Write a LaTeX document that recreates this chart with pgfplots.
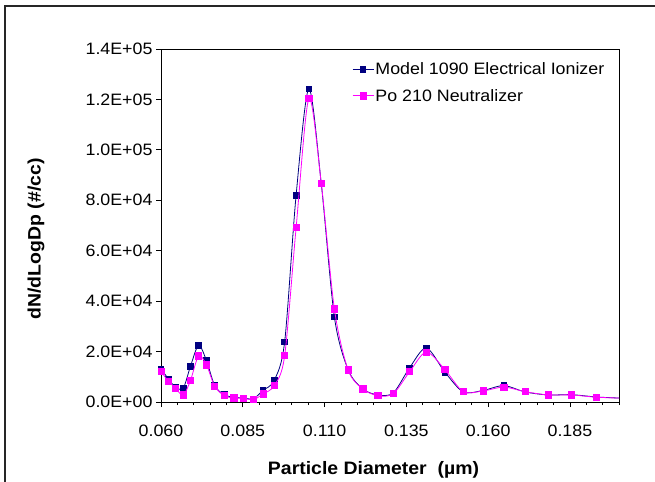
\documentclass[border=0pt]{standalone}
\usepackage{fontspec}
\setmainfont[FakeStretch=1.08]{Liberation Sans}
\usepackage{pgfplots}
\pgfplotsset{compat=1.18}
\definecolor{ionnavy}{HTML}{000080}
\definecolor{pomag}{HTML}{FF00FF}

\newcommand{\tickfont}{\fontsize{16.5bp}{19bp}\selectfont}
\newcommand{\labfont}{\fontsize{18bp}{21bp}\selectfont\bfseries}

\begin{document}
\begin{tikzpicture}
\useasboundingbox (0,0) rectangle (655bp,482bp);
% outer chart frame, cut at right and bottom
\draw[line width=1.6bp, black!85] (5bp,-20bp) -- (5bp,476bp) -- (700bp,476bp);
\begin{axis}[
  at={(161bp,80bp)}, anchor=south west,
  scale only axis, width=458bp, height=353bp,
  xmin=0.06, xmax=0.2, ymin=0, ymax=140000,
  axis line style={line width=0.9bp},
  xtick={0.06,0.085,0.11,0.135,0.16,0.185},
  xticklabels={0.060,0.085,0.110,0.135,0.160,0.185},
  minor xtick={0.065,0.07,0.075,0.08,0.09,0.095,0.1,0.105,0.115,0.12,0.125,0.13,0.14,0.145,0.15,0.155,0.165,0.17,0.175,0.18,0.19,0.195,0.2},
  ytick={0,20000,40000,60000,80000,100000,120000,140000},
  yticklabels={0.0E+00,2.0E+04,4.0E+04,6.0E+04,8.0E+04,1.0E+05,1.2E+05,1.4E+05},
  scaled y ticks=false,
  tick align=outside, xtick pos=bottom, ytick pos=left,
  major tick length=5bp, minor tick length=3bp,
  tick style={line width=0.8bp, black},
  tick label style={font=\tickfont},
  xticklabel style={yshift=-14bp},
  xlabel={Particle Diameter\ \ (µm)},
  ylabel={dN/dLogDp (\#/cc)},
  label style={font=\labfont},
  xlabel style={at={(axis description cs:0.464,-0.204)}, anchor=base},
  ylabel style={at={(axis description cs:-0.273,0.462)}, anchor=center},
  clip mode=individual,
  legend style={draw=none, fill=none, font=\tickfont,
    at={(axis description cs:0.417,0.966)}, anchor=north west,
    inner sep=0pt, row sep=10bp, nodes={inner sep=1.5bp}},
  legend cell align=left,
  legend image code/.code={\draw[mark indices={2}] plot coordinates {(0bp,0bp)(10.5bp,0bp)(21bp,0bp)};},
]
\addplot[color=ionnavy, line width=0.8bp, smooth, mark=square*, mark size=2.8bp,
  mark options={solid, fill=ionnavy}, mark indices={1,...,33}] table {
x y
0.0600 13100
0.0623 9100
0.0645 5800
0.0668 5500
0.0690 14100
0.0715 22500
0.0739 16400
0.0764 6600
0.0793 2900
0.0823 1900
0.0852 1600
0.0882 1300
0.0912 4600
0.0946 8600
0.0978 23900
0.1013 82000
0.1052 124200
0.1090 86500
0.1130 33700
0.1172 12800
0.1217 5200
0.1263 2800
0.1310 3600
0.1360 13600
0.1411 21400
0.1468 11800
0.1524 4000
0.1585 4600
0.1648 6500
0.1713 4000
0.1783 2800
0.1854 2900
0.1931 2000
0.2012 1500
};
\addlegendentry{Model 1090 Electrical Ionizer}
\addplot[color=pomag, line width=0.8bp, smooth, mark=square*, mark size=3.1bp,
  mark options={solid, fill=pomag}, mark indices={1,...,33}] table {
x y
0.0600 12000
0.0623 8300
0.0645 5300
0.0668 2800
0.0690 8500
0.0715 18300
0.0739 14700
0.0764 6300
0.0793 2500
0.0823 1600
0.0852 1500
0.0882 900
0.0912 3200
0.0946 6500
0.0978 18400
0.1013 69100
0.1052 120300
0.1090 86600
0.1130 36900
0.1172 12700
0.1217 5200
0.1263 2500
0.1310 3300
0.1360 12000
0.1411 19800
0.1468 12800
0.1524 4100
0.1585 4400
0.1648 5900
0.1713 4100
0.1783 2800
0.1854 2800
0.1931 1900
0.2012 1500
};
\addlegendentry{Po 210 Neutralizer}
\end{axis}
\end{tikzpicture}
\end{document}
